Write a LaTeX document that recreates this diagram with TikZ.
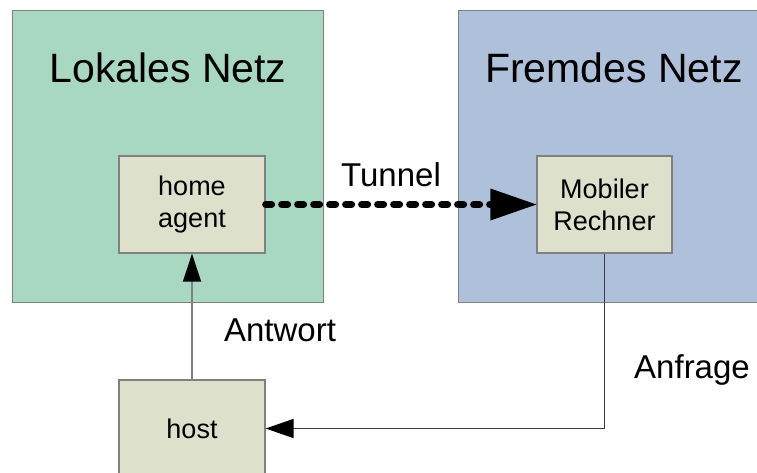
\documentclass[tikz,border=0pt]{standalone}
\usepackage{fontspec}
\setmainfont{Liberation Sans}
\usetikzlibrary{arrows.meta}
\definecolor{lokal}{RGB}{169,216,194}
\definecolor{fremd}{RGB}{175,193,218}
\definecolor{knoten}{RGB}{221,225,204}
\definecolor{rand}{RGB}{128,128,128}
\definecolor{dunkel}{RGB}{60,60,60}
\tikzset{
  netz/.style={draw=rand, line width=1.2pt, anchor=north west, inner sep=0pt},
  knotenbox/.style={draw=rand, line width=1.2pt, fill=knoten, inner sep=0pt,
    align=center, font=\fontsize{27}{32}\selectfont},
  titel/.style={font=\fontsize{41}{44}\selectfont},
  beschr/.style={font=\fontsize{33}{38}\selectfont},
}
\begin{document}
\begin{tikzpicture}[x=1pt,y=-1pt]
\useasboundingbox (0,0) rectangle (757,472);
\clip (0,0) rectangle (757,472);
\node[netz, fill=lokal, minimum width=311pt, minimum height=292pt] (lan) at (12,10) {};
\node[netz, fill=fremd, minimum width=330pt, minimum height=292pt] (wan) at (458,10) {};
\node[titel] (lantitle) at (168,68) {Lokales Netz};
\node[titel] (wantitle) at (614,68) {Fremdes Netz};
\node[knotenbox, minimum width=146pt, minimum height=97pt] (home) at (192,204.5) {home\\agent};
\node[knotenbox, minimum width=135pt, minimum height=97pt] (mobil) at (604.5,204.5) {Mobiler\\Rechner};
\node[knotenbox, minimum width=146pt, minimum height=97pt] (host) at (192,428.5) {host};
\node[beschr] (tunnel) at (391,175) {Tunnel};
\node[beschr] (antwort) at (280,330) {Antwort};
\node[beschr] (anfrage) at (692,370) {Anfrage};
\draw[line width=7pt, line cap=round, dash pattern=on 6pt off 10pt,
  -{Triangle[length=46pt,width=32pt,line cap=butt,line width=0pt]}] (home.east) -- (mobil.west);
\draw[rand, line width=1.5pt, -{Triangle[length=28pt,width=18pt,fill=black,color=black]}] (host.north) -- (home.south);
\draw[dunkel, line width=1.5pt, -{Triangle[length=28pt,width=19pt,fill=black,color=black]}] (mobil.south) |- (host.east);
\end{tikzpicture}
\end{document}
